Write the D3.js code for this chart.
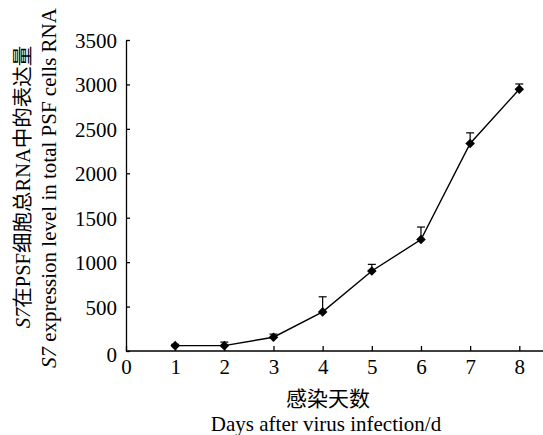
<!DOCTYPE html>
<html>
<head>
<meta charset="utf-8">
<script src="https://cdn.jsdelivr.net/npm/d3@7"></script>
<style>
  body { margin: 0; background: #fff; }
  text { font-family: "Liberation Serif", "Times New Roman", serif; fill: #000; }
  .cjk { font-family: "Noto Sans CJK SC", serif; }
</style>
</head>
<body>
<svg id="chart" width="543" height="435"></svg>
<script>
// data
const days = [1, 2, 3, 4, 5, 6, 7, 8];
const expression = [60, 60, 155, 440, 900, 1255, 2335, 2945];
const errUp = [15, 40, 35, 170, 75, 140, 120, 60];
const xTicks = [0, 1, 2, 3, 4, 5, 6, 7, 8];
const yTicks = [0, 500, 1000, 1500, 2000, 2500, 3000, 3500];

let svg = d3.select("#chart");

let margin = {top: 40, right: 0, bottom: 84, left: 126},
  width = 543 - margin.left - margin.right,
  height = 435 - margin.top - margin.bottom;

let g = svg.append("g")
  .attr("transform", `translate(${margin.left}, ${margin.top})`);

let x_scale = d3.scaleLinear()
  .domain([0, 8])
  .range([0, 393.3]);

let y_scale = d3.scaleLinear()
  .domain([0, 3500])
  .range([height, 0]);

// X-axis
let xAxis = g.append("g")
  .attr("transform", `translate(0, ${height})`)
  .call(d3.axisBottom(x_scale).tickValues(xTicks).tickFormat(d3.format("d")).tickSizeInner(-5).tickSizeOuter(0));
xAxis.select(".domain").attr("d", `M0,0H${width}`);

// Y-axis
let yAxis = g.append("g")
  .call(d3.axisLeft(y_scale).tickValues(yTicks).tickFormat(d3.format("d")).tickSizeInner(-4).tickSizeOuter(0));

g.selectAll(".domain, .tick line").attr("stroke", "#000").attr("stroke-width", 1.3);
g.selectAll(".tick text")
  .style("font-family", "'Liberation Serif', serif")
  .style("font-size", "21px");
xAxis.selectAll(".tick text").attr("y", 8);
yAxis.selectAll(".tick text").attr("x", -9).attr("dy", "0.36em");
yAxis.select(".tick text").attr("dy", "0.5em");

// Line
let line = d3.line()
  .x((d, i) => x_scale(days[i]))
  .y(d => y_scale(d));

g.append("path")
  .datum(expression)
  .attr("fill", "none")
  .attr("stroke", "#000")
  .attr("stroke-width", 1.4)
  .attr("d", line);

// Error bars (upper only)
let eb = g.selectAll(".err")
  .data(days)
  .join("g")
  .attr("class", "err");

eb.append("line")
  .attr("x1", d => x_scale(d))
  .attr("x2", d => x_scale(d))
  .attr("y1", (d, i) => y_scale(expression[i]))
  .attr("y2", (d, i) => y_scale(expression[i] + errUp[i]))
  .attr("stroke", "#000")
  .attr("stroke-width", 1.2);

eb.append("line")
  .attr("x1", d => x_scale(d) - 4)
  .attr("x2", d => x_scale(d) + 4)
  .attr("y1", (d, i) => y_scale(expression[i] + errUp[i]))
  .attr("y2", (d, i) => y_scale(expression[i] + errUp[i]))
  .attr("stroke", "#000")
  .attr("stroke-width", 1.2);

// Diamond markers (rotated squares)
g.selectAll(".pt")
  .data(days)
  .join("path")
  .attr("class", "pt")
  .attr("transform", (d, i) => `translate(${x_scale(d)}, ${y_scale(expression[i])}) rotate(45)`)
  .attr("d", d3.symbol(d3.symbolSquare, 46))
  .attr("fill", "#000");

// X-axis labels
svg.append("text")
  .attr("class", "cjk")
  .attr("x", 328)
  .attr("y", 406)
  .attr("text-anchor", "middle")
  .style("font-size", "21px")
  .text("感染天数");

svg.append("text")
  .attr("x", 326)
  .attr("y", 431)
  .attr("text-anchor", "middle")
  .style("font-size", "21px")
  .text("Days after virus infection/d");

// Y-axis labels
let yl1 = svg.append("text")
  .attr("transform", "translate(30, 187) rotate(-90)")
  .attr("text-anchor", "middle")
  .style("font-size", "20.5px");
yl1.append("tspan").attr("font-style", "italic").text("S7");
yl1.append("tspan").attr("class", "cjk").text("在");
yl1.append("tspan").text("PSF");
yl1.append("tspan").attr("class", "cjk").text("细胞总");
yl1.append("tspan").text("RNA");
yl1.append("tspan").attr("class", "cjk").text("中的表达量");

let yl2 = svg.append("text")
  .attr("transform", "translate(56, 188) rotate(-90)")
  .attr("text-anchor", "middle")
  .style("font-size", "21px");
yl2.append("tspan").attr("font-style", "italic").text("S7");
yl2.append("tspan").text(" expression level in total PSF cells RNA");
</script>
</body>
</html>
